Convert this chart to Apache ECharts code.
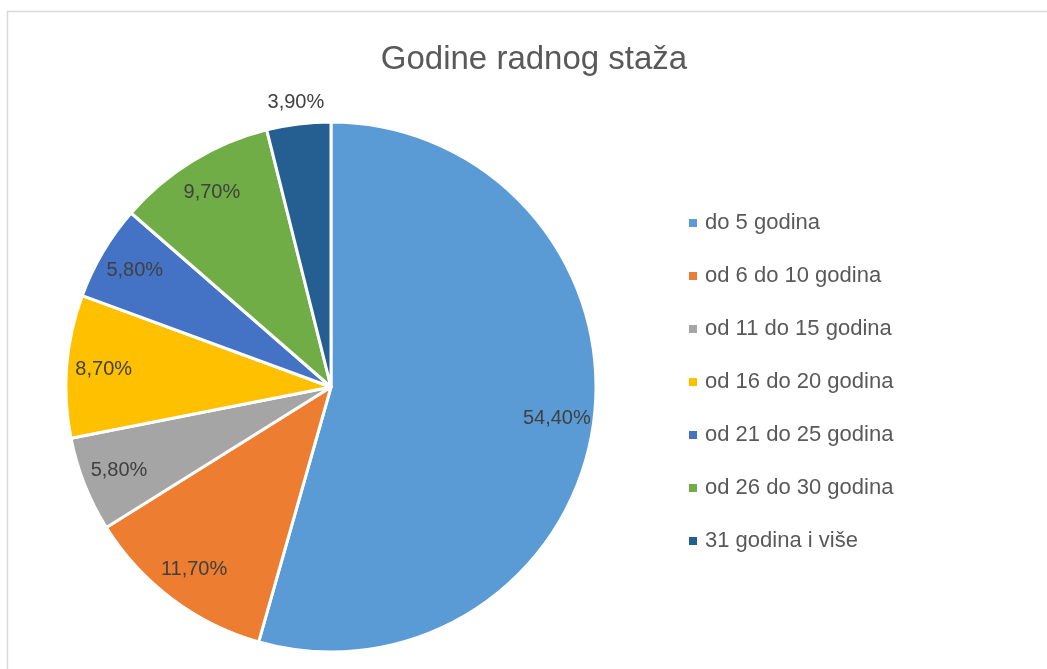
<!DOCTYPE html>
<html>
<head>
<meta charset="utf-8">
<script src="https://cdn.jsdelivr.net/npm/echarts@6/dist/echarts.min.js"></script>
<style>
  html, body { margin: 0; padding: 0; background: #fff; }
  #chart { width: 1047px; height: 669px; }
</style>
</head>
<body>
<div id="chart"></div>
<script>
// podaci
const categories = ['do 5 godina', 'od 6 do 10 godina', 'od 11 do 15 godina', 'od 16 do 20 godina',
  'od 21 do 25 godina', 'od 26 do 30 godina', '31 godina i više']
const values = [54.4, 11.7, 5.8, 8.7, 5.8, 9.7, 3.9]
const colors = ['#5B9BD5', '#ED7D31', '#A5A5A5', '#FFC000', '#4472C4', '#70AD47', '#255E91']
// labels drawn outside the pie (small slices)
const outsideLabels = ['31 godina i više']

const font = 'Liberation Sans'
const center = [331, 387]
const r = 265

function fmt (v) {
  return v.toFixed(2).replace('.', ',') + '%'
}

const pieData = categories.map((name, i) => ({ name: name, value: values[i] }))

const myechart = echarts.init(document.getElementById('chart'))

let option = {
  animation: false,
  color: colors,
  title: {
    text: 'Godine radnog staža',
    left: 529,
    textAlign: 'center',
    top: 38,
    textStyle: { fontFamily: font, fontSize: 33, fontWeight: 'normal', color: '#595959' }
  },
  legend: {
    orient: 'vertical',
    left: 687,
    top: 211,
    padding: 0,
    itemWidth: 10,
    itemHeight: 10,
    itemGap: 29,
    icon: 'rect',
    data: categories,
    textStyle: { fontFamily: font, fontSize: 22, color: '#595959', lineHeight: 24, padding: [0, 0, 0, 2] }
  },
  graphic: [{
    type: 'rect',
    shape: { x: 7.5, y: 11.5, width: 1100, height: 700 },
    style: { fill: 'none', stroke: '#D9D9D9', lineWidth: 1.5 },
    silent: true
  }],
  series: [
    {
      type: 'pie',
      center: center,
      radius: [0, r],
      startAngle: 90,
      clockwise: true,
      label: { show: false },
      labelLine: { show: false },
      itemStyle: { borderColor: '#fff', borderWidth: 3 },
      data: pieData
    },
    {
      // labels inside slices
      type: 'pie',
      center: center,
      radius: [185, r],
      startAngle: 90,
      silent: true,
      legendHoverLink: false,
      itemStyle: { color: 'transparent' },
      label: {
        position: 'inside',
        fontFamily: font,
        fontSize: 20,
        color: '#404040',
        formatter: p => outsideLabels.includes(p.name) ? '' : fmt(p.value)
      },
      labelLine: { show: false },
      data: pieData
    },
    {
      // labels just outside the pie
      type: 'pie',
      center: center,
      radius: [r, 303],
      startAngle: 90,
      silent: true,
      legendHoverLink: false,
      itemStyle: { color: 'transparent' },
      label: {
        position: 'inside',
        fontFamily: font,
        fontSize: 20,
        color: '#404040',
        formatter: p => outsideLabels.includes(p.name) ? fmt(p.value) : ''
      },
      labelLine: { show: false },
      data: pieData
    }
  ]
}
myechart.setOption(option)
</script>
</body>
</html>
